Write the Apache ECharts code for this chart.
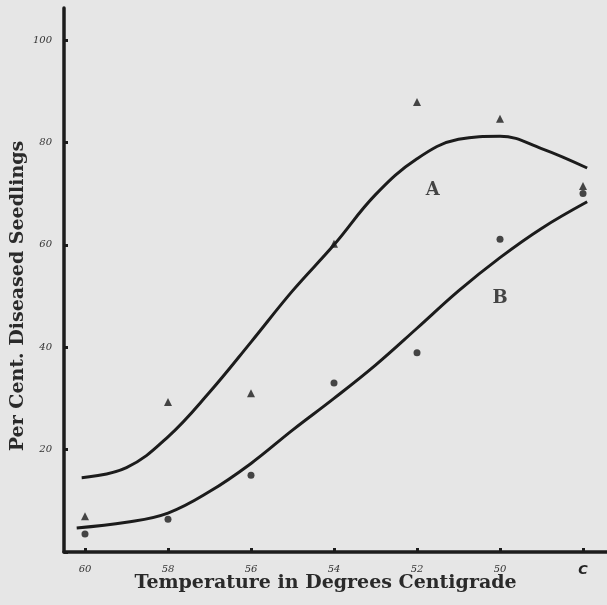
<!DOCTYPE html>
<html><head><meta charset="utf-8">
<script src="https://cdn.jsdelivr.net/npm/echarts@6/dist/echarts.min.js"></script>
<style>html,body{margin:0;padding:0;background:#e6e6e6}#c{width:607px;height:605px}</style>
</head><body><div id="c"></div><script>
// x positions are the index of each temperature column
const xTickValues = [0, 1, 2, 3, 4, 5, 6];
const xTickLabels = ['60', '58', '56', '54', '52', '50', 'C'];
const yTickValues = [0, 20, 40, 60, 80, 100];
const yTickLabels = ['', '20', '40', '60', '80', '100'];
// observed points
const pointX = [0, 1, 2, 3, 4, 5, 6];
const triangleA = [7.0, 29.3, 31.0, 60.2, 87.9, 84.6, 71.5];
const dotB = [3.5, 6.4, 15.0, 33.0, 38.9, 61.1, 70.0];
// fitted curves
const curveAX = [-0.04, 0.5, 1, 1.5, 2, 2.5, 3, 3.5, 4, 4.5, 5, 5.5, 6.05];
const curveAY = [14.5, 16.5, 22.5, 31.2, 41, 51, 60, 69.8, 76.8, 80.6, 81.2, 78.8, 75];
const curveBX = [-0.1, 0.5, 1, 1.5, 2, 2.5, 3, 3.5, 4, 4.5, 5, 5.5, 6.05];
const curveBY = [4.7, 5.8, 7.6, 11.8, 17.3, 23.8, 30, 36.5, 43.7, 51, 57.5, 63.2, 68.4];
// curve labels
const curveNames = ['A', 'B'];
const curveLabelX = [4.19, 5.0];
const curveLabelY = [70.7, 49.6];

const ink = '#1c1c1c';
const zip = (xs, ys) => xs.map((x, i) => [x, ys[i]]);
const chart = echarts.init(document.getElementById('c'));
chart.setOption({
  backgroundColor: '#e6e6e6',
  animation: false,
  grid: { left: 64, right: 0, top: 8, bottom: 53, containLabel: false, outerBoundsMode: 'none' },
  xAxis: {
    type: 'value', min: -0.253, max: 6.289,
    splitLine: { show: false },
    axisLine: { onZero: false, lineStyle: { color: ink, width: 3.5 } },
    axisTick: { inside: true, length: 4, customValues: xTickValues, lineStyle: { color: ink, width: 3 } },
    axisLabel: {
      customValues: xTickValues, margin: 12,
      fontFamily: 'DejaVu Serif', fontStyle: 'italic', fontSize: 10, color: '#333',
      formatter: v => { const s = xTickLabels[Math.round(v)]; return s === 'C' ? '{c|C}' : s; },
      rich: { c: { fontFamily: 'DejaVu Sans', fontWeight: 'bold', fontSize: 13, color: '#222' } }
    },
    name: 'Temperature in Degrees Centigrade', nameLocation: 'middle', nameGap: 22, nameMoveOverlap: false,
    nameTextStyle: { fontFamily: 'DejaVu Serif', fontWeight: 'bold', fontSize: 19, color: '#2a2a2a', padding: [0, 20, 0, 0] }
  },
  yAxis: {
    type: 'value', min: 0, max: 106.25,
    splitLine: { show: false },
    axisLine: { onZero: false, lineStyle: { color: ink, width: 3.5 } },
    axisTick: { inside: true, length: 4, customValues: yTickValues, lineStyle: { color: ink, width: 3 } },
    axisLabel: {
      customValues: yTickValues, margin: 12,
      fontFamily: 'DejaVu Serif', fontStyle: 'italic', fontSize: 10, color: '#333',
      formatter: v => yTickLabels[yTickValues.indexOf(v)]
    },
    name: 'Per Cent. Diseased Seedlings', nameLocation: 'middle', nameGap: 36, nameMoveOverlap: false,
    nameTextStyle: { fontFamily: 'DejaVu Serif', fontWeight: 'bold', fontSize: 19, color: '#2a2a2a', padding: [0, 32, 0, 0] }
  },
  series: [
    { type: 'line', data: zip(curveAX, curveAY), smooth: 0.4, showSymbol: false, lineStyle: { color: ink, width: 3 } },
    { type: 'line', data: zip(curveBX, curveBY), smooth: 0.4, showSymbol: false, lineStyle: { color: ink, width: 3 } },
    { type: 'scatter', data: zip(pointX, triangleA), symbol: 'triangle', symbolSize: 8, itemStyle: { color: ink } },
    { type: 'scatter', data: zip(pointX, dotB), symbol: 'circle', symbolSize: 7, itemStyle: { color: ink } },
    { type: 'scatter', symbol: 'circle', symbolSize: 2, itemStyle: { color: 'rgba(0,0,0,0)' },
      data: curveNames.map((n, i) => ({ name: n, value: [curveLabelX[i], curveLabelY[i]] })),
      label: { show: true, position: 'inside', formatter: '{b}', fontFamily: 'DejaVu Serif', fontWeight: 'bold', fontSize: 18, color: '#1c1c1c' } }
  ]
});
</script></body></html>
